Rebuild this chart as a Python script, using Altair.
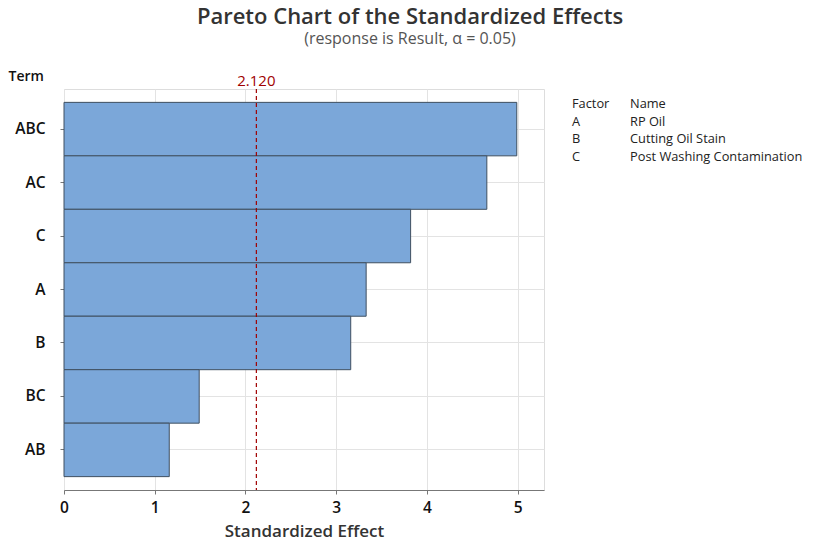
import altair as alt
import pandas as pd

terms = ["ABC", "AC", "C", "A", "B", "BC", "AB"]
effects = [4.99, 4.66, 3.82, 3.33, 3.16, 1.49, 1.16]
critical = 2.120
x_ticks = [0, 1, 2, 3, 4, 5]

factor_codes = ["Factor", "A", "B", "C"]
factor_names = ["Name", "RP Oil", "Cutting Oil Stain", "Post Washing Contamination"]

FONT = "Segoe UI, Open Sans, Noto Sans, sans-serif"

bars_df = pd.DataFrame({"Term": terms, "Effect": effects})
table_df = pd.DataFrame({"row": list(range(len(factor_codes))),
                         "code": factor_codes, "name": factor_names})

x_scale = alt.Scale(domain=[0, 5.29], nice=False, zero=True)

bars = alt.Chart(bars_df).mark_bar(
    color="#7BA7D9", stroke="#3F4F60", strokeWidth=1
).encode(
    x=alt.X("Effect:Q", scale=x_scale,
            axis=alt.Axis(values=x_ticks, format="d", title="Standardized Effect", grid=True,
                          gridColor="#E3E3E3", tickColor="#777", domainColor="#777",
                          tickSize=4, labelFontSize=15.5, labelFontWeight=600,
                          labelColor="#111", labelPadding=6, labelFlush=False,
                          titleFontSize=17,
                          titleFontWeight=600, titleColor="#333", titlePadding=8,
                          labelFont=FONT, titleFont=FONT)),
    y=alt.Y("Term:N", sort=terms,
            scale=alt.Scale(paddingInner=0, paddingOuter=0.25),
            axis=alt.Axis(title="Term", grid=True, gridColor="#E3E3E3", domain=False,
                          tickColor="#777", tickSize=4, labelFontSize=15.5,
                          labelFontWeight=600, labelColor="#111", labelPadding=15,
                          titleAngle=0, titleAlign="left", titleBaseline="alphabetic",
                          titleX=-56, titleY=-9, titleFontSize=14, titleFontWeight=600,
                          titleColor="#111", labelFont=FONT, titleFont=FONT))
)

rule = alt.Chart(pd.DataFrame({"v": [critical]})).mark_rule(
    color="#A00000", strokeDash=[4, 3], strokeWidth=1.2
).encode(x=alt.X("v:Q", scale=x_scale))

rule_label = alt.Chart(pd.DataFrame({"v": [critical], "t": [f"{critical:.3f}"]})).mark_text(
    color="#A00000", fontSize=15, font=FONT, baseline="alphabetic", align="center"
).encode(x=alt.X("v:Q", scale=x_scale), y=alt.value(-3), text="t:N")

row_scale = alt.Scale(domain=[0, 3], range=[15, 68])
col1 = alt.Chart(table_df).mark_text(
    align="left", baseline="middle", fontSize=12.8, font=FONT, color="#222", fontWeight=500
).encode(x=alt.value(508), y=alt.Y("row:Q", scale=row_scale, axis=None), text="code:N")
col2 = alt.Chart(table_df).mark_text(
    align="left", baseline="middle", fontSize=12.8, font=FONT, color="#222", fontWeight=500
).encode(x=alt.value(566), y=alt.Y("row:Q", scale=row_scale, axis=None), text="name:N")

chart = alt.layer(bars, rule, rule_label, col1, col2).resolve_scale(
    y="independent"
).properties(
    width=480, height=401,
    padding={"left": 56, "top": 81, "right": 266, "bottom": 56},
    autosize=alt.AutoSizeParams(type="none"),
    title=alt.TitleParams(
        text="Pareto Chart of the Standardized Effects",
        subtitle="(response is Result, α = 0.05)",
        anchor="middle", dx=106, fontSize=22, fontWeight=600, color="#333",
        subtitleFontSize=16, subtitleColor="#555", subtitlePadding=2,
        font=FONT, subtitleFont=FONT, offset=21)
).configure_view(stroke="#777", strokeWidth=1).configure(background="white")

chart.save("out.html", embed_options={"renderer": "svg", "actions": False})
